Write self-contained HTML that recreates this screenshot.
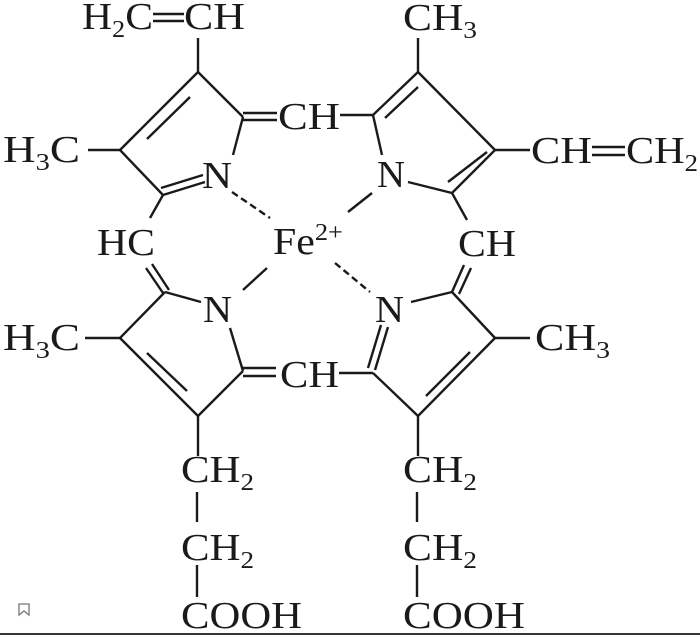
<!DOCTYPE html>
<html><head><meta charset="utf-8"><style>
html,body{margin:0;padding:0;background:#fff;width:700px;height:637px;overflow:hidden}
svg{display:block}
text{font-family:"Liberation Serif",serif;fill:#1a1a1a;font-size:38px}
.s{font-size:24px}
</style></head><body>
<svg width="700" height="637" viewBox="0 0 700 637" xmlns="http://www.w3.org/2000/svg">
<g stroke="#1a1a1a" stroke-width="2.4" fill="none" stroke-linecap="butt">
<line x1="198" y1="38" x2="198" y2="72"/>
<line x1="198" y1="72" x2="120" y2="150"/>
<line x1="190" y1="97" x2="147" y2="139"/>
<line x1="198" y1="72" x2="243" y2="117"/>
<line x1="243" y1="117" x2="233" y2="155"/>
<line x1="243" y1="113" x2="277" y2="113"/>
<line x1="243" y1="120" x2="277" y2="120"/>
<line x1="88" y1="150" x2="120" y2="150"/>
<line x1="120" y1="150" x2="163" y2="195"/>
<line x1="163" y1="195" x2="205" y2="182"/>
<line x1="161" y1="188" x2="203" y2="175"/>
<line x1="163" y1="195" x2="150" y2="218"/>
<line x1="232" y1="192" x2="270" y2="218" stroke-dasharray="7,4"/>
<line x1="153" y1="14" x2="184" y2="14"/>
<line x1="153" y1="21" x2="184" y2="21"/>
<line x1="418" y1="38" x2="418" y2="72"/>
<line x1="418" y1="72" x2="373" y2="115"/>
<line x1="385" y1="118" x2="418" y2="87"/>
<line x1="340" y1="115" x2="373" y2="115"/>
<line x1="373" y1="115" x2="382" y2="155"/>
<line x1="418" y1="72" x2="495" y2="150"/>
<line x1="495" y1="150" x2="452" y2="193"/>
<line x1="448" y1="182" x2="487" y2="152"/>
<line x1="408" y1="182" x2="452" y2="193"/>
<line x1="452" y1="193" x2="467" y2="220"/>
<line x1="495" y1="150" x2="530" y2="150"/>
<line x1="372" y1="193" x2="348" y2="212"/>
<line x1="592" y1="147" x2="625" y2="147"/>
<line x1="592" y1="155" x2="625" y2="155"/>
<line x1="146" y1="268" x2="163" y2="293"/>
<line x1="152" y1="264" x2="169" y2="290"/>
<line x1="165" y1="292" x2="201" y2="302"/>
<line x1="165" y1="292" x2="120" y2="338"/>
<line x1="85" y1="338" x2="120" y2="338"/>
<line x1="120" y1="338" x2="198" y2="416"/>
<line x1="147" y1="353" x2="187" y2="391"/>
<line x1="198" y1="416" x2="243" y2="371"/>
<line x1="243" y1="371" x2="230" y2="328"/>
<line x1="243" y1="368" x2="276" y2="368"/>
<line x1="243" y1="376" x2="276" y2="376"/>
<line x1="339" y1="373" x2="373" y2="373"/>
<line x1="243" y1="290" x2="267" y2="268"/>
<line x1="198" y1="416" x2="198" y2="456"/>
<line x1="197" y1="492" x2="197" y2="522"/>
<line x1="197" y1="565" x2="197" y2="597"/>
<line x1="464" y1="265" x2="452" y2="292"/>
<line x1="471" y1="268" x2="459" y2="294"/>
<line x1="411" y1="302" x2="452" y2="292"/>
<line x1="452" y1="292" x2="495" y2="338"/>
<line x1="495" y1="338" x2="530" y2="338"/>
<line x1="495" y1="338" x2="418" y2="416"/>
<line x1="470" y1="352" x2="426" y2="396"/>
<line x1="373" y1="373" x2="418" y2="416"/>
<line x1="388" y1="327" x2="375" y2="370"/>
<line x1="381" y1="325" x2="368" y2="368"/>
<line x1="335" y1="263" x2="370" y2="292" stroke-dasharray="7,4"/>
<line x1="418" y1="416" x2="418" y2="456"/>
<line x1="417" y1="492" x2="417" y2="522"/>
<line x1="417" y1="565" x2="417" y2="597"/>
</g>
<text x="82" y="29" textLength="71" lengthAdjust="spacingAndGlyphs">H<tspan class="s" dy="8">2</tspan><tspan dy="-8">C</tspan></text>
<text x="184" y="29" textLength="61" lengthAdjust="spacingAndGlyphs">CH</text>
<text x="403" y="30" textLength="74" lengthAdjust="spacingAndGlyphs">CH<tspan class="s" dy="8">3</tspan></text>
<text x="3" y="162" textLength="77" lengthAdjust="spacingAndGlyphs">H<tspan class="s" dy="8">3</tspan><tspan dy="-8">C</tspan></text>
<text x="278" y="129" textLength="62" lengthAdjust="spacingAndGlyphs">CH</text>
<text x="202" y="188" textLength="30" lengthAdjust="spacingAndGlyphs">N</text>
<text x="377" y="187" textLength="28" lengthAdjust="spacingAndGlyphs">N</text>
<text x="531" y="163" textLength="61" lengthAdjust="spacingAndGlyphs">CH</text>
<text x="626" y="163" textLength="72" lengthAdjust="spacingAndGlyphs">CH<tspan class="s" dy="8">2</tspan></text>
<text x="97" y="255" textLength="58" lengthAdjust="spacingAndGlyphs">HC</text>
<text x="273" y="254" textLength="70" lengthAdjust="spacingAndGlyphs">Fe<tspan class="s" dy="-14">2+</tspan></text>
<text x="458" y="256" textLength="58" lengthAdjust="spacingAndGlyphs">CH</text>
<text x="203" y="322" textLength="29" lengthAdjust="spacingAndGlyphs">N</text>
<text x="375" y="322" textLength="29" lengthAdjust="spacingAndGlyphs">N</text>
<text x="3" y="350" textLength="77" lengthAdjust="spacingAndGlyphs">H<tspan class="s" dy="8">3</tspan><tspan dy="-8">C</tspan></text>
<text x="535" y="350" textLength="75" lengthAdjust="spacingAndGlyphs">CH<tspan class="s" dy="8">3</tspan></text>
<text x="280" y="387" textLength="59" lengthAdjust="spacingAndGlyphs">CH</text>
<text x="181" y="482" textLength="73" lengthAdjust="spacingAndGlyphs">CH<tspan class="s" dy="8">2</tspan></text>
<text x="181" y="560" textLength="73" lengthAdjust="spacingAndGlyphs">CH<tspan class="s" dy="8">2</tspan></text>
<text x="181" y="628" textLength="121" lengthAdjust="spacingAndGlyphs">COOH</text>
<text x="403" y="482" textLength="74" lengthAdjust="spacingAndGlyphs">CH<tspan class="s" dy="8">2</tspan></text>
<text x="403" y="560" textLength="74" lengthAdjust="spacingAndGlyphs">CH<tspan class="s" dy="8">2</tspan></text>
<text x="403" y="628" textLength="122" lengthAdjust="spacingAndGlyphs">COOH</text>
<path d="M19 604 H29 V615 L24 611 L19 615 Z" fill="none" stroke="#777" stroke-width="1.3"/>
<line x1="0" y1="634" x2="700" y2="634" stroke="#333" stroke-width="2"/>
</svg>
</body></html>
